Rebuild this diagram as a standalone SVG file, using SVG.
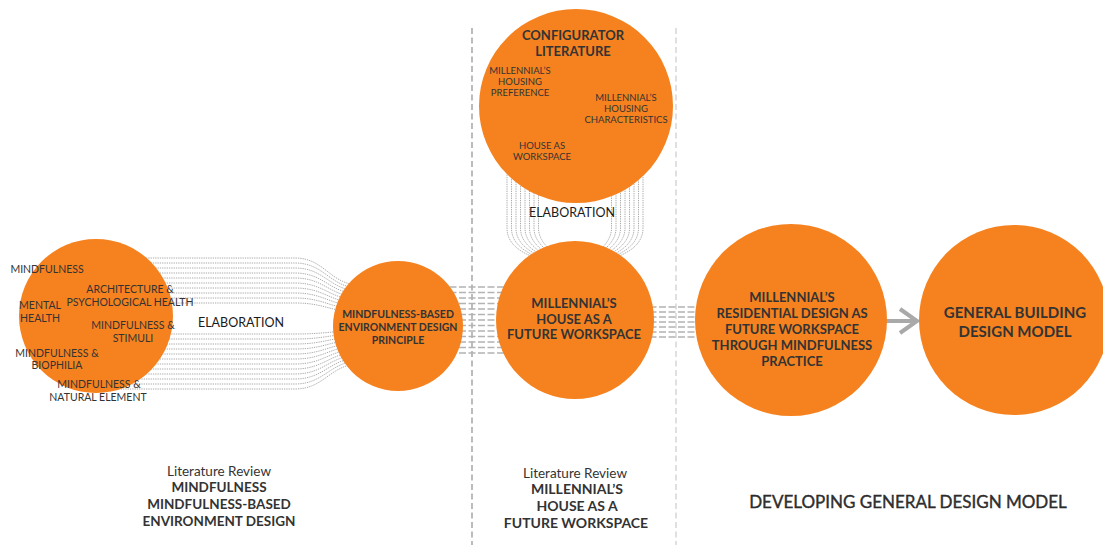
<svg xmlns="http://www.w3.org/2000/svg" width="1103" height="545" viewBox="0 0 1103 545">
<defs>
<style>
.c{fill:#F5821F}
.dot{fill:none;stroke:#a0a0a0;stroke-width:0.9;stroke-dasharray:1.3 1}
.dash{fill:none;stroke:#b3b3b3;stroke-width:1.5;stroke-dasharray:7 2.5}
.sep1{fill:none;stroke:#8f8f8f;stroke-width:1.2;stroke-dasharray:6 3.5}
.sep2{fill:none;stroke:#cccccc;stroke-width:1.2;stroke-dasharray:6 3.5}
text{font-family:Lato,"Liberation Sans",sans-serif;text-anchor:middle;fill:#333}
.s{font-size:10.5px}
.t{font-size:9.5px}
.b{font-weight:bold}
.lab{font-size:12.5px;fill:#1a1a1a}
</style>
</defs>
<rect width="1103" height="545" fill="#ffffff"/>
<g id="separators">
<line class="sep1" x1="472" y1="28" x2="472" y2="545"/>
<line class="sep2" x1="676" y1="28" x2="676" y2="545"/>
</g>
<g id="connectors">
<g id="elab-left">
<path class="dot" d="M100 258H295C325 258 330 285 360 285"/>
<path class="dot" d="M100 263H295C325 263 330 288 360 288"/>
<path class="dot" d="M100 268H295C325 268 330 291 360 291"/>
<path class="dot" d="M100 273H295C325 273 330 294 360 294"/>
<path class="dot" d="M100 278H295C325 278 330 297 360 297"/>
<path class="dot" d="M100 283H295C325 283 330 300 360 300"/>
<path class="dot" d="M100 288H295C325 288 330 303 360 303"/>
<path class="dot" d="M100 293H295C325 293 330 306 360 306"/>
<path class="dot" d="M100 298H295C325 298 330 309 360 309"/>
<path class="dot" d="M100 303H295C325 303 330 312 360 312"/>
<path class="dot" d="M100 334H295C325 334 330 331 360 331"/>
<path class="dot" d="M100 339H295C325 339 330 334 360 334"/>
<path class="dot" d="M100 344H295C325 344 330 337 360 337"/>
<path class="dot" d="M100 349H295C325 349 330 340 360 340"/>
<path class="dot" d="M100 354H295C325 354 330 343 360 343"/>
<path class="dot" d="M100 359H295C325 359 330 346 360 346"/>
<path class="dot" d="M100 364H295C325 364 330 349 360 349"/>
<path class="dot" d="M100 369H295C325 369 330 352 360 352"/>
<path class="dot" d="M100 374H295C325 374 330 355 360 355"/>
<path class="dot" d="M100 379H295C325 379 330 358 360 358"/>
<path class="dot" d="M100 384H295C325 384 330 361 360 361"/>
<path class="dot" d="M100 389H295C325 389 330 364 360 364"/>
</g>
<g id="elab-top">
<path class="dot" d="M507 170V228C507 248 528 256 548 262"/>
<path class="dot" d="M511.5 170V228C511.5 247 531 255 550 262"/>
<path class="dot" d="M516 170V228C516 246 534 254 552 262"/>
<path class="dot" d="M520.5 170V228C520.5 245 537 253 554 262"/>
<path class="dot" d="M525 170V228C525 244 540 252 556 262"/>
<path class="dot" d="M529.5 170V228C529.5 243 543 251 558 262"/>
<path class="dot" d="M534 170V228C534 242 546 250 560 262"/>
<path class="dot" d="M538.5 170V228C538.5 241 549 249 562 262"/>
<path class="dot" d="M643 170V228C643 248 622 256 602 262"/>
<path class="dot" d="M638.5 170V228C638.5 247 619 255 600 262"/>
<path class="dot" d="M634 170V228C634 246 616 254 598 262"/>
<path class="dot" d="M629.5 170V228C629.5 245 613 253 596 262"/>
<path class="dot" d="M625 170V228C625 244 610 252 594 262"/>
<path class="dot" d="M620.5 170V228C620.5 243 607 251 592 262"/>
<path class="dot" d="M616 170V228C616 242 604 250 590 262"/>
<path class="dot" d="M611.5 170V228C611.5 241 601 249 588 262"/>
</g>
<g id="link-mid">
<line class="dash" x1="440" y1="287" x2="520" y2="287"/>
<line class="dash" x1="440" y1="292.5" x2="520" y2="292.5"/>
<line class="dash" x1="440" y1="298" x2="520" y2="298"/>
<line class="dash" x1="440" y1="303.5" x2="520" y2="303.5"/>
<line class="dash" x1="440" y1="309" x2="520" y2="309"/>
<line class="dash" x1="440" y1="314.5" x2="520" y2="314.5"/>
<line class="dash" x1="440" y1="320" x2="520" y2="320"/>
<line class="dash" x1="440" y1="325.5" x2="520" y2="325.5"/>
<line class="dash" x1="440" y1="331" x2="520" y2="331"/>
<line class="dash" x1="440" y1="336.5" x2="520" y2="336.5"/>
<line class="dash" x1="440" y1="342" x2="520" y2="342"/>
<line class="dash" x1="440" y1="347.5" x2="520" y2="347.5"/>
<line class="dash" x1="440" y1="353" x2="520" y2="353"/>
</g>
<g id="link-right">
<line class="dash" x1="640" y1="307" x2="712" y2="307"/>
<line class="dash" x1="640" y1="312" x2="712" y2="312"/>
<line class="dash" x1="640" y1="317" x2="712" y2="317"/>
<line class="dash" x1="640" y1="322" x2="712" y2="322"/>
<line class="dash" x1="640" y1="327" x2="712" y2="327"/>
<line class="dash" x1="640" y1="332" x2="712" y2="332"/>
<line class="dash" x1="640" y1="337" x2="712" y2="337"/>
</g>
<g id="arrow" fill="none" stroke="#a9a9a9" stroke-width="4" stroke-linecap="butt">
<line x1="886" y1="321" x2="916" y2="321"/>
<polyline points="900,309 917,321 900,333" stroke-linejoin="miter"/>
</g>
</g>
<g id="node-mindfulness">
<circle class="c" cx="96" cy="316" r="77"/>
<text class="s" x="47" y="273">MINDFULNESS</text>
<text class="s" x="130" y="293">ARCHITECTURE &amp;</text>
<text class="s" x="130" y="306">PSYCHOLOGICAL HEALTH</text>
<text class="s" x="40" y="309">MENTAL</text>
<text class="s" x="40" y="322">HEALTH</text>
<text class="s" x="133" y="329">MINDFULNESS &amp;</text>
<text class="s" x="133" y="342">STIMULI</text>
<text class="s" x="57" y="357">MINDFULNESS &amp;</text>
<text class="s" x="57" y="369">BIOPHILIA</text>
<text class="s" x="99" y="388">MINDFULNESS &amp;</text>
<text class="s" x="98" y="401">NATURAL ELEMENT</text>
</g>
<g id="label-elab-left">
<text class="lab" x="241" y="327">ELABORATION</text>
</g>
<g id="node-principle">
<circle class="c" cx="398" cy="326" r="65"/>
<text class="b" font-size="10.5" x="398" y="318">MINDFULNESS-BASED</text>
<text class="b" font-size="10.5" x="398" y="331">ENVIRONMENT DESIGN</text>
<text class="b" font-size="10.5" x="398" y="344">PRINCIPLE</text>
</g>
<g id="node-configurator">
<circle class="c" cx="576" cy="106" r="97"/>
<text class="b" font-size="13" x="573" y="40">CONFIGURATOR</text>
<text class="b" font-size="13" x="573" y="56">LITERATURE</text>
<text class="t" x="520" y="74">MILLENNIAL’S</text>
<text class="t" x="520" y="85">HOUSING</text>
<text class="t" x="520" y="96">PREFERENCE</text>
<text class="t" x="626" y="101">MILLENNIAL’S</text>
<text class="t" x="626" y="112">HOUSING</text>
<text class="t" x="626" y="123">CHARACTERISTICS</text>
<text class="t" x="542" y="149">HOUSE AS</text>
<text class="t" x="542" y="160">WORKSPACE</text>
</g>
<g id="label-elab-top">
<text class="lab" x="572" y="217">ELABORATION</text>
</g>
<g id="node-house">
<circle class="c" cx="575" cy="320" r="79"/>
<text class="b" font-size="13" x="574" y="308">MILLENNIAL’S</text>
<text class="b" font-size="13" x="574" y="324">HOUSE AS A</text>
<text class="b" font-size="13" x="574" y="339">FUTURE WORKSPACE</text>
</g>
<g id="node-residential">
<circle class="c" cx="791" cy="320" r="96"/>
<text class="b" font-size="13" x="792" y="302">MILLENNIAL’S</text>
<text class="b" font-size="13" x="792" y="318">RESIDENTIAL DESIGN AS</text>
<text class="b" font-size="13" x="792" y="334">FUTURE WORKSPACE</text>
<text class="b" font-size="13" x="792" y="350">THROUGH MINDFULNESS</text>
<text class="b" font-size="13" x="792" y="366">PRACTICE</text>
</g>
<g id="node-general">
<circle class="c" cx="1014" cy="320" r="95"/>
<text class="b" font-size="15" x="1015" y="318">GENERAL BUILDING</text>
<text class="b" font-size="15" x="1015" y="337">DESIGN MODEL</text>
</g>
<g id="captions">
<text font-size="13.5" fill="#444" x="219" y="476">Literature Review</text>
<text class="b" font-size="13.5" fill="#1a1a1a" x="219" y="492">MINDFULNESS</text>
<text class="b" font-size="13.5" fill="#1a1a1a" x="219" y="509">MINDFULNESS-BASED</text>
<text class="b" font-size="13.5" fill="#1a1a1a" x="219" y="526">ENVIRONMENT DESIGN</text>
<text font-size="13.5" fill="#444" x="575" y="478">Literature Review</text>
<text class="b" font-size="14" fill="#1a1a1a" x="577" y="494">MILLENNIAL’S</text>
<text class="b" font-size="14" fill="#1a1a1a" x="577" y="511">HOUSE AS A</text>
<text class="b" font-size="14" fill="#1a1a1a" x="576" y="528">FUTURE WORKSPACE</text>
<text font-size="17" fill="#1a1a1a" stroke="#1a1a1a" stroke-width="0.35" x="908" y="508">DEVELOPING GENERAL DESIGN MODEL</text>
</g>
</svg>
